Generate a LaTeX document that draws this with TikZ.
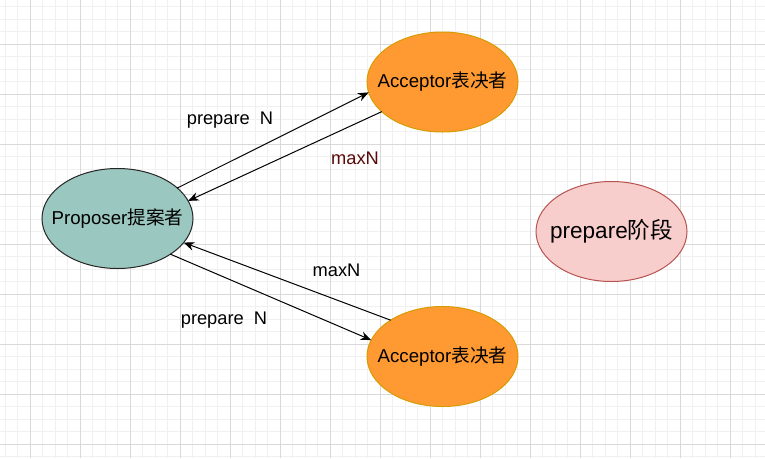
\documentclass[tikz,border=0pt]{standalone}
\usepackage{fontspec}
\setmainfont{Liberation Sans}
\newfontfamily\cjkfont{Noto Sans CJK SC}
\usepackage{xcolor}
\usepackage{tikz}
\usetikzlibrary{shapes.geometric, arrows.meta}
\definecolor{paxosTeal}{HTML}{9AC7BF}
\definecolor{paxosOrange}{HTML}{FF9A33}
\definecolor{paxosOrangeLine}{HTML}{D79B00}
\definecolor{paxosPink}{HTML}{F8CECC}
\definecolor{paxosPinkLine}{HTML}{B85450}
\definecolor{paxosMaroon}{HTML}{5A0A0A}
\definecolor{gridMinor}{HTML}{F0F0F0}
\definecolor{gridMajor}{HTML}{D9D9D9}

\begin{document}
\begin{tikzpicture}[x=0.75pt, y=-0.75pt,
    role/.style={ellipse, minimum width=113.25pt, minimum height=75pt,
        inner xsep=-20pt, inner ysep=0pt, outer sep=0pt, line width=0.75pt,
        font=\fontsize{14}{16}\selectfont},
    msg/.style={-{Stealth[length=8pt, width=6.5pt]}, line width=0.75pt, black},
    msglabel/.style={inner sep=0pt, font=\fontsize{13.7}{16}\selectfont}]
        % background grid
        \useasboundingbox (0,0) rectangle (765,458);
        \fill[white] (0,0) rectangle (765,458);
        \foreach \gx in {5,17.5,...,765}
            \draw[gridMinor, line width=0.75pt] (\gx,0) -- (\gx,458);
        \foreach \gy in {6.5,19,...,458}
            \draw[gridMinor, line width=0.75pt] (0,\gy) -- (765,\gy);
        \foreach \gx in {30,80,...,730}
            \draw[gridMajor, line width=0.75pt] (\gx,0) -- (\gx,458);
        \foreach \gy in {44,94,...,444}
            \draw[gridMajor, line width=0.75pt] (0,\gy) -- (765,\gy);

        % roles
        \node[role, fill=paxosTeal, draw=black!85] (proposer) at (117.5,218.5)
            {Proposer{\cjkfont 提案者}};
        \node[role, fill=paxosOrange, draw=paxosOrangeLine] (acceptorTop) at (442.5,82)
            {Acceptor{\cjkfont 表决者}};
        \node[role, fill=paxosOrange, draw=paxosOrangeLine] (acceptorBottom) at (442.5,356.5)
            {Acceptor{\cjkfont 表决者}};
        \node[role, fill=paxosPink, draw=paxosPinkLine,
              font=\fontsize{16.9}{19}\selectfont] (phase) at (611.5,231.5)
            {prepare{\cjkfont 阶段}};

        % messages
        \draw[msg] (proposer.27) -- (acceptorTop.188);
        \draw[msg] (acceptorTop.206) -- (proposer.14);
        \draw[msg] (acceptorBottom.145) -- (proposer.340);
        \draw[msg] (proposer.326) -- (acceptorBottom.167);

        \node[msglabel] (prepareTop) at (230,120) {prepare\ \ N};
        \node[msglabel, text=paxosMaroon] (maxTop) at (355,158) {maxN};
        \node[msglabel] (maxBottom) at (336.5,270) {maxN};
        \node[msglabel] (prepareBottom) at (224,320) {prepare\ \ N};
\end{tikzpicture}
\end{document}
